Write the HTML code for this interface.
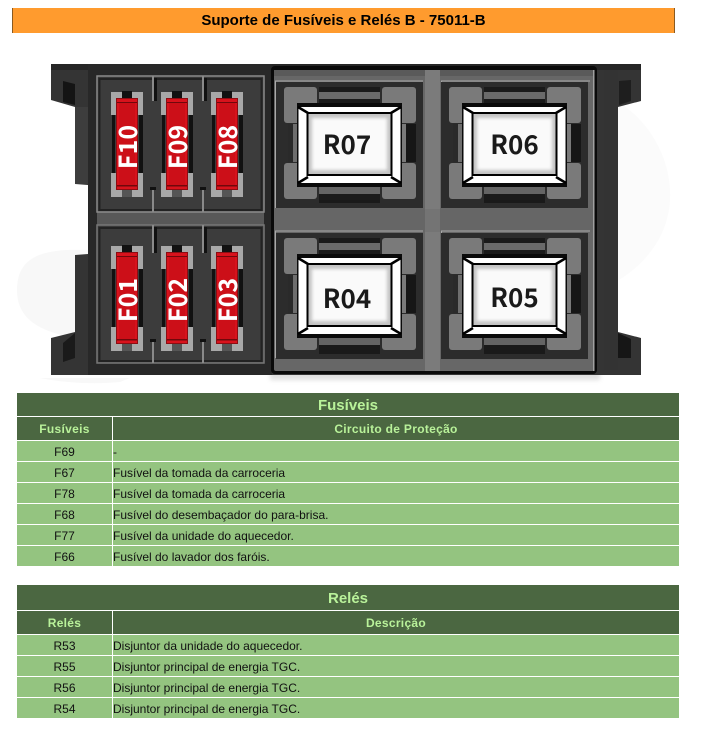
<!DOCTYPE html>
<html><head><meta charset="utf-8"><style>
html,body{margin:0;padding:0;background:#fff}
#p{position:relative;width:703px;height:733px;overflow:hidden;font-family:"Liberation Sans",Arial,sans-serif;background:#fff}
#p div{position:absolute;box-sizing:border-box}
.bar{left:12px;top:8px;width:663px;height:25px;background:#ff9b2e;border-left:1px solid #8a5a20;border-right:1px solid #8a5a20;text-align:center;font-weight:bold;font-size:15px;line-height:26px;color:#000}
.t{left:17px;width:662px;background:#4b6741;color:#b9f29a;font-weight:bold;text-align:center;font-size:15px;line-height:25px}
.h{background:#4b6741;color:#b9f29a;font-weight:bold;font-size:12px;text-align:center;letter-spacing:.3px}
.c{background:#94c480;color:#111;font-size:12px;height:20px;line-height:22px;white-space:nowrap}
.a{left:17px;width:95px;text-align:center}
.b{left:113px;width:566px}
svg{position:absolute;left:0;top:0}
</style></head><body><div id="p">
<div class="bar">Suporte de Fusíveis e Relés B - 75011-B</div>

<svg width="703" height="390" viewBox="0 0 703 390" xmlns="http://www.w3.org/2000/svg">
<defs>
<filter id="bl"><feGaussianBlur stdDeviation="1.6"/></filter>
<filter id="bl2"><feGaussianBlur stdDeviation="2"/></filter>
<g id="fuse">
<rect x="-5" y="-6" width="32" height="23" fill="#a8a8a8"/>
<rect x="-5" y="75" width="32" height="24" fill="#a8a8a8"/>
<rect x="6" y="-7" width="10" height="7" fill="#111"/>
<rect x="6" y="92" width="10" height="7" fill="#555"/>
<rect x="-4" y="17" width="3" height="58" fill="#111"/>
<rect x="23" y="17" width="4" height="58" fill="#111"/>
<rect x="0" y="0" width="22" height="92" fill="#8c0c12"/>
<rect x="1" y="1" width="20" height="90" fill="#d8121c"/>
<rect x="1" y="4" width="20" height="1" fill="#70080c"/>
<rect x="3" y="5" width="16" height="82" fill="#cc0f18"/>
<rect x="1" y="87" width="20" height="1.5" fill="#70080c"/>
</g>
<g id="relay">
<rect x="-22" y="-25" width="147" height="126" fill="#2c2c2c"/>
<rect x="21" y="-20" width="61" height="20" fill="#1a1a1a"/>
<rect x="21" y="-15" width="61" height="7" fill="#6a6a6a"/>
<rect x="21" y="76" width="61" height="20" fill="#1a1a1a"/>
<rect x="21" y="80" width="61" height="7" fill="#646464"/>
<rect x="-14" y="-20" width="33" height="36" rx="3" fill="#7a7a7a"/>
<rect x="84" y="-20" width="34" height="36" rx="3" fill="#7a7a7a"/>
<rect x="-14" y="56" width="33" height="36" rx="3" fill="#7a7a7a"/>
<rect x="84" y="56" width="34" height="36" rx="3" fill="#7a7a7a"/>
<rect x="-10" y="17" width="5" height="38" fill="#2a2a2a"/>
<rect x="-5" y="17" width="5" height="38" fill="#6e6e6e"/>
<rect x="103" y="17" width="5" height="38" fill="#7a7a7a"/>
<rect x="108" y="17" width="10" height="38" fill="#161616"/>
<rect x="-1" y="-4" width="105" height="84" fill="#0a0a0a"/>
<rect x="0.500" y="0" width="102" height="76" fill="#fff"/>
<path d="M0 0L10 6M103 0L93 6M0 76L10 70M103 76L93 70" stroke="#000" stroke-width="2.500"/>
<rect x="8.500" y="5" width="86" height="64" fill="#000"/>
<rect x="10.500" y="7" width="82" height="60" fill="#c4c4c4"/>
<rect x="14" y="11" width="75" height="52" fill="#fafafa" filter="url(#bl)"/>
</g>
</defs>

<!-- watermark -->
<g fill="#f8f8f8">
<path d="M17 290C17 255 45 248 90 250V340C50 335 17 325 17 290Z"/>
<path d="M40 378H130L120 382C90 385 60 382 40 378Z"/>
<path d="M615 100C650 120 672 160 670 200C668 240 640 270 610 285Z" fill="#fbfbfb"/>
</g>

<rect x="270" y="70" width="330" height="310" fill="#999" opacity=".3" filter="url(#bl2)"/>

<!-- housing -->
<path d="M51 64H641V101L618 107V184L605 185V254L618 254V332L641 338V375H51V338L75 332V255L88 254V185L75 184V107L51 100Z" fill="#343434"/>
<rect x="51" y="64" width="590" height="6" fill="#262626"/>
<path d="M63 81L75 84V105L63 102Z" fill="#141414"/>
<path d="M63 362V343L75 333V358Z" fill="#1a1a1a"/>
<path d="M619 81L631 80V101L619 105Z" fill="#1e1e1e"/>
<path d="M618 333L631 339V358H618Z" fill="#161616"/>
<rect x="88" y="185" width="9" height="69" fill="#2e2e2e"/>
<rect x="604" y="70" width="14" height="300" fill="#333"/>
<rect x="75" y="107" width="13" height="77" fill="#3d3d3d"/>

<!-- fuse blocks -->
<rect x="88" y="64" width="184" height="311" fill="#282828"/>
<rect x="97" y="212" width="167" height="13" fill="#585858"/>
<rect x="97" y="76" width="167" height="136" fill="#3a3a3a" stroke="#8a8a8a" stroke-width="1.500"/>
<rect x="97" y="225" width="167" height="138" fill="#3a3a3a" stroke="#777" stroke-width="1.500"/>
<rect x="99.500" y="79" width="162" height="131" fill="#3c3c3c" stroke="#222" stroke-width="2"/>
<rect x="99.500" y="228" width="162" height="133" fill="#3c3c3c" stroke="#222" stroke-width="2"/>
<g fill="#8a8a8a">
<rect x="152" y="76" width="2" height="25"/><rect x="202" y="76" width="2" height="25"/>
<rect x="152" y="189" width="2" height="23"/><rect x="202" y="189" width="2" height="23"/>
<rect x="152" y="225" width="2" height="28"/><rect x="202" y="225" width="2" height="28"/>
<rect x="152" y="341" width="2" height="22"/><rect x="202" y="341" width="2" height="22"/>
</g>
<g fill="#111">
<rect x="154" y="78" width="3" height="23"/><rect x="204" y="78" width="3" height="23"/>
<rect x="150" y="187" width="6" height="3"/><rect x="200" y="187" width="6" height="3"/>
<rect x="154" y="227" width="3" height="26"/><rect x="204" y="227" width="3" height="26"/>
<rect x="150" y="339" width="6" height="3"/><rect x="200" y="339" width="6" height="3"/>
</g>
<use href="#fuse" x="116" y="98"/><use href="#fuse" x="166" y="98"/><use href="#fuse" x="216" y="98"/>
<use href="#fuse" x="116" y="252"/><use href="#fuse" x="166" y="252"/><use href="#fuse" x="216" y="252"/>
<g font-family="'Noto Sans CJK JP','Liberation Sans',sans-serif" font-weight="700" font-size="25" fill="#fff" text-anchor="middle">
<text transform="translate(137 147) rotate(-90)">F10</text>
<text transform="translate(187 147) rotate(-90)">F09</text>
<text transform="translate(237 147) rotate(-90)">F08</text>
<text transform="translate(137 300) rotate(-90)">F01</text>
<text transform="translate(187 300) rotate(-90)">F02</text>
<text transform="translate(237 300) rotate(-90)">F03</text>
</g>

<!-- relay panel -->
<rect x="271" y="66" width="326" height="308" rx="4" fill="#0a0a0a"/>
<rect x="274" y="70" width="320" height="301" rx="2" fill="#676767"/>
<rect x="274" y="70" width="320" height="6" fill="#5a5a5a"/>
<rect x="425" y="70" width="15" height="301" fill="#7b7b7b"/>
<rect x="274" y="209" width="320" height="23" fill="#666"/>
<rect x="425" y="209" width="15" height="23" fill="#747474"/>
<rect x="593" y="70" width="1.500" height="301" fill="#a0a0a0"/>
<g fill="none" stroke="#a8a8a8" stroke-width="1">
<path d="M275.500 208V81H423"/><path d="M441.500 208V81H590"/>
<path d="M275.500 358V231H423"/><path d="M441.500 358V231H590"/>
</g>
<use href="#relay" x="298" y="107"/><use href="#relay" x="463" y="107"/>
<use href="#relay" x="298" y="258"/><use href="#relay" x="463" y="258"/>
<g font-family="'Noto Sans CJK JP','Liberation Sans',sans-serif" font-weight="700" font-size="26" fill="#1a1a1a" text-anchor="middle">
<text x="347" y="154">R07</text>
<text x="514.500" y="154">R06</text>
<text x="347" y="308">R04</text>
<text x="514.500" y="307">R05</text>
</g>
</svg>

<!-- Fusíveis table -->
<div class="t" style="top:393px;height:23px">Fusíveis</div>
<div class="h" style="left:17px;top:417px;width:95px;height:23px;line-height:24px">Fusíveis</div>
<div class="h" style="left:113px;top:417px;width:566px;height:23px;line-height:24px">Circuito de Proteção</div>
<div class="c a" style="top:441px">F69</div><div class="c b" style="top:441px">-</div>
<div class="c a" style="top:462px">F67</div><div class="c b" style="top:462px">Fusível da tomada da carroceria</div>
<div class="c a" style="top:483px">F78</div><div class="c b" style="top:483px">Fusível da tomada da carroceria</div>
<div class="c a" style="top:504px">F68</div><div class="c b" style="top:504px">Fusível do desembaçador do para-brisa.</div>
<div class="c a" style="top:525px">F77</div><div class="c b" style="top:525px">Fusível da unidade do aquecedor.</div>
<div class="c a" style="top:546px">F66</div><div class="c b" style="top:546px">Fusível do lavador dos faróis.</div>

<!-- Relés table -->
<div class="t" style="top:585px;height:25px;line-height:27px">Relés</div>
<div class="h" style="left:17px;top:611px;width:95px;height:23px;line-height:24px">Relés</div>
<div class="h" style="left:113px;top:611px;width:566px;height:23px;line-height:24px">Descrição</div>
<div class="c a" style="top:635px">R53</div><div class="c b" style="top:635px">Disjuntor da unidade do aquecedor.</div>
<div class="c a" style="top:656px">R55</div><div class="c b" style="top:656px">Disjuntor principal de energia TGC.</div>
<div class="c a" style="top:677px">R56</div><div class="c b" style="top:677px">Disjuntor principal de energia TGC.</div>
<div class="c a" style="top:698px">R54</div><div class="c b" style="top:698px">Disjuntor principal de energia TGC.</div>
</div></body></html>
